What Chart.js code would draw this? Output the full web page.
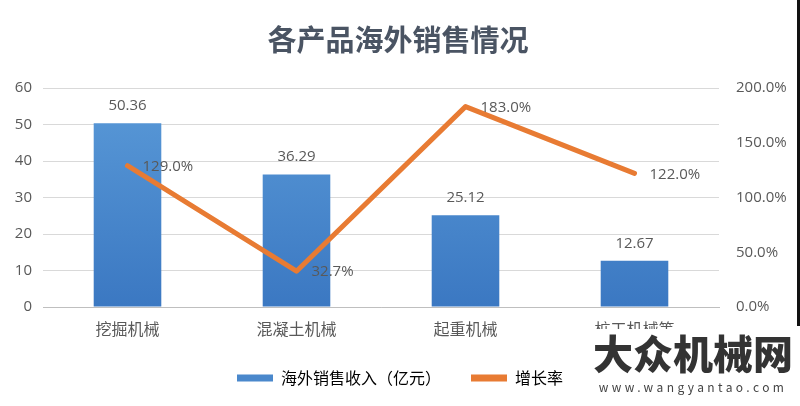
<!DOCTYPE html>
<html>
<head>
<meta charset="utf-8">
<script src="https://cdn.jsdelivr.net/npm/chart.js@4/dist/chart.umd.min.js"></script>
<style>
  html, body { margin: 0; padding: 0; background: #fff; }
  #wrap { position: relative; width: 800px; height: 406px; overflow: hidden; }
  #edge { position: absolute; right: 0; top: 0; width: 3px; height: 326px; background: #111; }
  #mark { position: absolute; left: 586px; top: 329px; width: 214px; height: 77px; background: #fff;
          font-family: "Noto Sans CJK SC", sans-serif; color: #333; text-align: center; white-space: nowrap; }
  #mark .big { font-size: 40px; font-weight: 900; line-height: 46px; margin-top: 0; }
  #mark .url { font-size: 12px; letter-spacing: 3.4px; color: #444; line-height: 16px; margin-top: 4px; }
</style>
</head>
<body>
<div id="wrap">
  <canvas id="c" width="800" height="406"></canvas>
  <div id="edge"></div>
  <div id="mark"><div class="big">大众机械网</div><div class="url">www.wangyantao.com</div></div>
</div>
<script>
const categories = ["挖掘机械", "混凝土机械", "起重机械", "桩工机械等"];
const revenue = [50.36, 36.29, 25.12, 12.67];
const growth = [129.0, 32.7, 183.0, 122.0];
const leftTicks = [0, 10, 20, 30, 40, 50, 60];
const rightTicks = [0, 50, 100, 150, 200];

const numFont = '"Open Sans", "Noto Sans CJK SC", sans-serif';
const cjkFont = '"Noto Sans CJK SC", sans-serif';

const valueLabels = {
  id: "valueLabels",
  afterDatasetsDraw(chart) {
    const ctx = chart.ctx;
    ctx.save();
    ctx.font = "15px " + numFont;
    ctx.fillStyle = "#595959";
    chart.getDatasetMeta(0).data.forEach((bar, i) => {
      ctx.textAlign = "center";
      ctx.textBaseline = "bottom";
      ctx.fillText(revenue[i].toFixed(2), bar.x, bar.y - 10);
    });
    chart.getDatasetMeta(1).data.forEach((pt, i) => {
      ctx.textAlign = "left";
      ctx.textBaseline = "middle";
      ctx.fillText(growth[i].toFixed(1) + "%", pt.x + 15, pt.y + 1);
    });
    ctx.restore();
  }
};

const titlePlugin = {
  id: "titleText",
  afterDraw(chart) {
    const ctx = chart.ctx;
    ctx.save();
    ctx.font = "bold 29px " + cjkFont;
    ctx.fillStyle = "#4a5463";
    ctx.textAlign = "center";
    ctx.textBaseline = "middle";
    ctx.fillText("各产品海外销售情况", 398, 40);
    ctx.restore();
  }
};

const canvas = document.getElementById("c");
const gctx = canvas.getContext("2d");
const barGrad = gctx.createLinearGradient(0, 88, 0, 306);
barGrad.addColorStop(0, "#5a9ad8");
barGrad.addColorStop(1, "#3b78c2");

new Chart(canvas, {
  data: {
    labels: categories,
    datasets: [
      {
        type: "bar",
        label: "海外销售收入（亿元）",
        data: revenue,
        yAxisID: "y",
        backgroundColor: barGrad,
        categoryPercentage: 1,
        barPercentage: 0.4,
        order: 2
      },
      {
        type: "line",
        label: "增长率",
        data: growth,
        yAxisID: "y1",
        borderColor: "#e87b33",
        backgroundColor: "#e87b33",
        borderWidth: 5,
        pointRadius: 0,
        borderJoinStyle: "round",
        borderCapStyle: "round",
        tension: 0,
        order: 1
      }
    ]
  },
  options: {
    responsive: false,
    animation: false,
    layout: { padding: { top: 88, left: 0, right: 0, bottom: 10 } },
    scales: {
      x: {
        grid: { display: false, drawTicks: false },
        border: { color: "#bfbfbf" },
        ticks: { font: { family: cjkFont, size: 16 }, color: "#595959", padding: 12 },
        afterFit: (s) => { s.height = 33; }
      },
      y: {
        position: "left",
        min: 0,
        max: 60,
        afterBuildTicks: (s) => { s.ticks = leftTicks.map((v) => ({ value: v })); },
        grid: { color: "#d9d9d9", drawTicks: false },
        border: { display: false },
        ticks: { font: { family: numFont, size: 15 }, color: "#595959", padding: 11 },
        afterFit: (s) => { s.width = 43; }
      },
      y1: {
        position: "right",
        min: 0,
        max: 200,
        afterBuildTicks: (s) => { s.ticks = rightTicks.map((v) => ({ value: v })); },
        grid: { display: false, drawTicks: false },
        border: { display: false },
        ticks: {
          font: { family: numFont, size: 15 },
          color: "#595959",
          padding: 17,
          callback: (v) => v.toFixed(1) + "%"
        },
        afterFit: (s) => { s.width = 81; }
      }
    },
    plugins: {
      legend: {
        position: "bottom",
        labels: {
          font: { family: cjkFont, size: 16 },
          color: "#595959",
          boxWidth: 36,
          boxHeight: 7,
          padding: 30,
          generateLabels: (chart) => chart.data.datasets.map((ds, i) => ({
            text: ds.label,
            fillStyle: i === 0 ? "#4a88cc" : "#e87b33",
            strokeStyle: i === 0 ? "#4a88cc" : "#e87b33",
            lineWidth: 0,
            datasetIndex: i
          }))
        }
      },
      tooltip: { enabled: false }
    }
  },
  plugins: [valueLabels, titlePlugin]
});
</script>
</body>
</html>
